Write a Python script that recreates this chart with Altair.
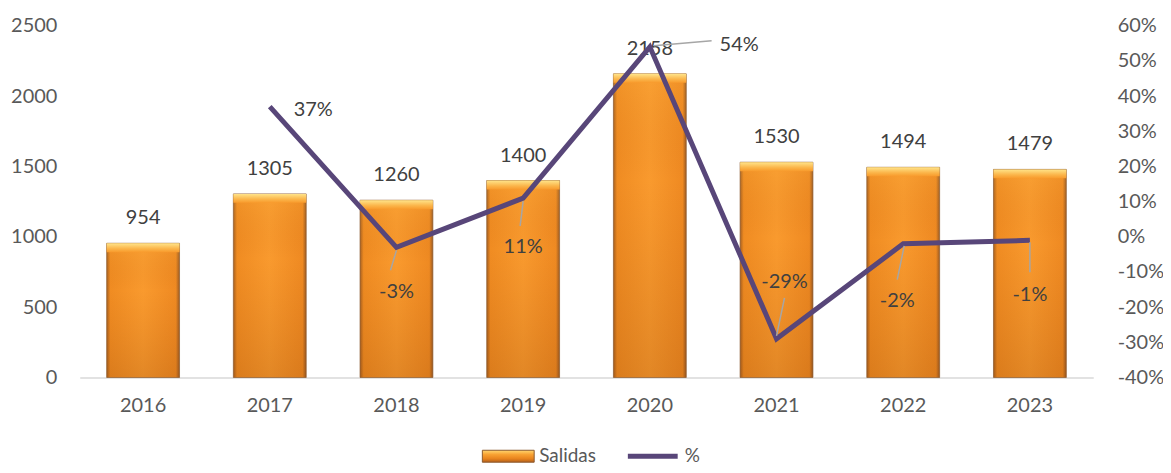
import altair as alt
import pandas as pd

years = ["2016", "2017", "2018", "2019", "2020", "2021", "2022", "2023"]
salidas = [954, 1305, 1260, 1400, 2158, 1530, 1494, 1479]
pct = [None, 0.37, -0.03, 0.11, 0.54, -0.29, -0.02, -0.01]
left_ticks = [0, 500, 1000, 1500, 2000, 2500]
right_ticks = [-0.4, -0.3, -0.2, -0.1, 0.0, 0.1, 0.2, 0.3, 0.4, 0.5, 0.6]

df = pd.DataFrame({"year": years, "salidas": salidas, "pct": pct})
df["pct_label"] = [None if p is None or pd.isna(p) else f"{round(p * 100)}%" for p in df["pct"]]
df_pct = df.dropna(subset=["pct"])

FONT = "Lato"
TXT = "#404040"
AX = "#595959"
PURPLE = "#584679"

x_enc = alt.X("year:N", title=None,
              scale=alt.Scale(paddingInner=0.425, paddingOuter=0.2125),
              axis=alt.Axis(labelAngle=0, ticks=False, domainColor="#D9D9D9", domainWidth=1.5,
                            labelFontSize=20, labelColor=AX, labelFont=FONT, labelPadding=18))

left_axis = alt.Axis(values=left_ticks, format="d", domain=False, ticks=False, grid=False,
                     labelFontSize=20, labelColor=AX, labelFont=FONT, labelPadding=23)
right_axis = alt.Axis(orient="right", values=right_ticks, domain=False, ticks=False, grid=False,
                      labelFontSize=20, labelColor=AX, labelFont=FONT, labelPadding=24,
                      labelExpr="replace(format(datum.value, '.0%'), '\u2212', '-')")

y_left = alt.Y("salidas:Q", title=None, scale=alt.Scale(domain=[0, 2500], nice=False), axis=left_axis)
y_right = alt.Y("pct:Q", title=None, scale=alt.Scale(domain=[-0.4, 0.6], nice=False), axis=right_axis)

side_grad = alt.Gradient(gradient="linear", x1=0, x2=1, y1=0, y2=0, stops=[
    alt.GradientStop(color="#A9611F", offset=0),
    alt.GradientStop(color="#F08C22", offset=0.05),
    alt.GradientStop(color="#F99A2E", offset=0.5),
    alt.GradientStop(color="#EF8A22", offset=0.95),
    alt.GradientStop(color="#9C5B22", offset=1)])
shade_grad = alt.Gradient(gradient="linear", x1=0, x2=0, y1=0, y2=1, stops=[
    alt.GradientStop(color="rgba(255,200,80,0.15)", offset=0),
    alt.GradientStop(color="rgba(150,60,0,0.0)", offset=0.35),
    alt.GradientStop(color="rgba(120,50,0,0.18)", offset=1)])
bevel_grad = alt.Gradient(gradient="linear", x1=0, x2=0, y1=0, y2=1, stops=[
    alt.GradientStop(color="#FFE48A", offset=0),
    alt.GradientStop(color="#FBB54A", offset=0.6),
    alt.GradientStop(color="#F89A2C", offset=1)])

base = alt.Chart(df)
bars = base.mark_bar(fill=side_grad).encode(x=x_enc, y=y_left)
shade = base.mark_bar(fill=shade_grad, stroke="#8C5A2E", strokeWidth=1, strokeOpacity=0.7).encode(x=x_enc, y=y_left)
bevel = base.mark_bar(fill=bevel_grad, y2Offset=9).encode(
    x=x_enc, y=y_left, y2=alt.Y2("salidas:Q"))
bar_labels = base.mark_text(font=FONT, fontSize=20, color=TXT, baseline="middle", dy=-25).encode(
    x=x_enc, y=y_left, text=alt.Text("salidas:Q"))

left = alt.layer(bars, shade, bevel, bar_labels)

pbase = alt.Chart(df_pct)
line = pbase.mark_line(color=PURPLE, strokeWidth=5).encode(x=x_enc, y=y_right)

# label placement (dx, dy, align) and leader line offsets per year
label_place = {
    "2017": (24, 3, "left"),
    "2018": (0, 45, "center"),
    "2019": (0, 49, "center"),
    "2020": (70, -2, "left"),
    "2021": (8, -57, "center"),
    "2022": (-6, 57, "center"),
    "2023": (0, 55, "center"),
}
leader_place = {
    "2018": (0, -6, 3, 23),
    "2019": (0, -3, 3, 28),
    "2020": (4, 62, -1, -6),
    "2021": (0, 8, -3, -41),
    "2022": (1, -6, 2, 36),
    "2023": (0, 0, 2, 32),
}

right_layers = [line]
for yr, (ldx, ldy, lal) in label_place.items():
    right_layers.append(
        pbase.transform_filter(alt.datum.year == yr)
        .mark_text(font=FONT, fontSize=20, color=TXT, baseline="middle", align=lal, dx=ldx, dy=ldy)
        .encode(x=x_enc, y=y_right, text="pct_label:N"))
for yr, (x0, x1, y0, y1) in leader_place.items():
    right_layers.append(
        pbase.transform_filter(alt.datum.year == yr)
        .mark_rule(color="#A6A6A6", strokeWidth=1.5, xOffset=x0, x2Offset=x1, yOffset=y0, y2Offset=y1)
        .encode(x=x_enc, x2=alt.X2("year:N"), y=y_right, y2=alt.Y2("pct:Q")))

right = alt.layer(*right_layers)

# legend (drawn below the plot area)
leg_grad = alt.Gradient(gradient="linear", x1=0, x2=0, y1=0, y2=1, stops=[
    alt.GradientStop(color="#FFD670", offset=0),
    alt.GradientStop(color="#F8A233", offset=0.35),
    alt.GradientStop(color="#E8841E", offset=0.7),
    alt.GradientStop(color="#B5601A", offset=1)])
one = alt.Chart(pd.DataFrame({"k": [0]}))
leg_rect = one.mark_rect(fill=leg_grad, stroke="#8C5A2E", strokeWidth=1).encode(
    x=alt.value(404), x2=alt.value(456), y=alt.value(426), y2=alt.value(438))
leg_t1 = one.mark_text(font=FONT, fontSize=19, color=AX, align="left", baseline="middle").encode(
    x=alt.value(461), y=alt.value(432), text=alt.value("Salidas"))
leg_line = one.mark_rule(color=PURPLE, strokeWidth=5).encode(
    x=alt.value(550), x2=alt.value(600), y=alt.value(432))
leg_t2 = one.mark_text(font=FONT, fontSize=19, color=AX, align="left", baseline="middle").encode(
    x=alt.value(607), y=alt.value(432), text=alt.value("%"))

chart = alt.layer(left, right, leg_rect, leg_t1, leg_line, leg_t2).resolve_scale(
    y="independent"
).properties(
    width=1017, height=353,
    autosize=alt.AutoSizeParams(type="none"),
    padding={"left": 72, "top": 17, "right": 70, "bottom": 87},
).configure_view(stroke=None)

chart.save("out.html", embed_options={"renderer": "svg", "actions": False})
